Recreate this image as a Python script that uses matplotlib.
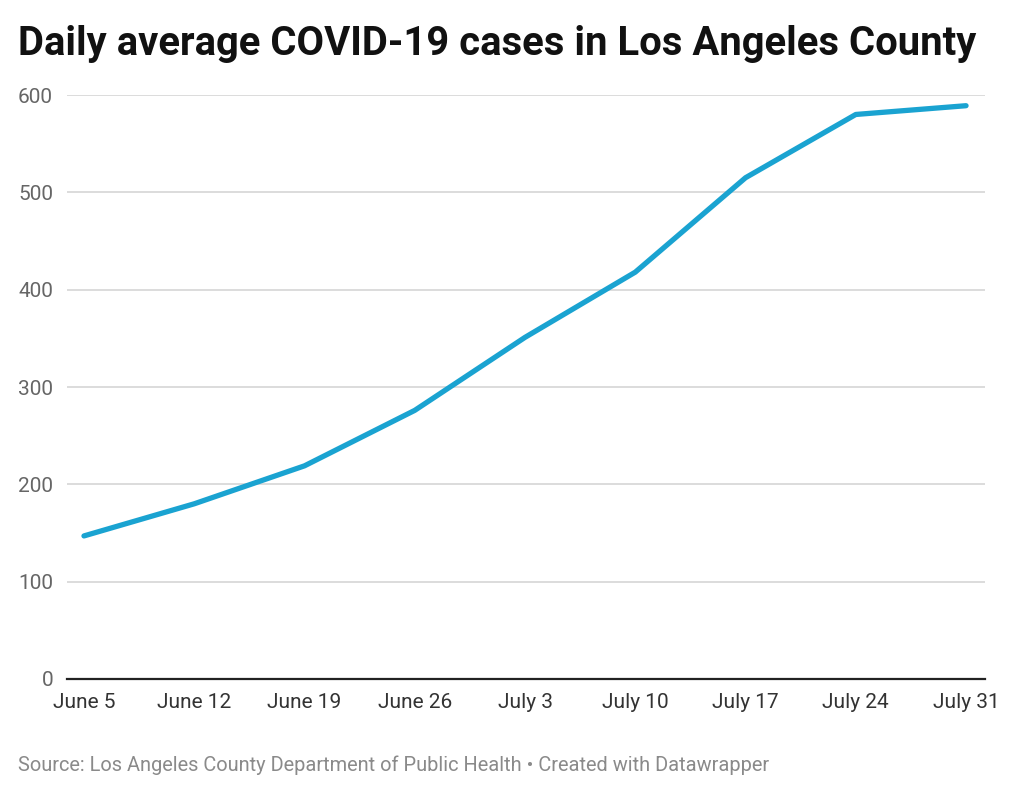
import matplotlib.pyplot as plt

plt.rcParams['font.family'] = ['Roboto', 'DejaVu Sans']

# data
dates = ["June 5", "June 12", "June 19", "June 26", "July 3",
         "July 10", "July 17", "July 24", "July 31"]
cases = [147, 180, 219, 276, 351, 418, 515, 580, 589]
yticks = [0, 100, 200, 300, 400, 500, 600]

fig = plt.figure(figsize=(10.24, 7.95), dpi=100)
ax = fig.add_axes([67/1024, 1 - 679/795, 918/1024, 584/795])

x = list(range(len(dates)))
ax.plot(x, cases, color="#1aa3d1", linewidth=3.8, solid_capstyle="round",
        solid_joinstyle="round", clip_on=False, zorder=3)

ax.set_xlim(-0.154, len(dates) - 1 + 0.172)
ax.set_ylim(0, 600)
ax.set_yticks(yticks)
ax.set_xticks(x)
ax.set_xticklabels(dates)

# gridlines and baseline
ax.grid(axis="y", color="#d9d9d9", linewidth=1.3)
ax.set_axisbelow(True)
for s in ["top", "right", "left"]:
    ax.spines[s].set_visible(False)
ax.spines["bottom"].set_color("#222222")
ax.spines["bottom"].set_linewidth(1.6)
ax.spines["bottom"].set_zorder(4)

ax.tick_params(axis="y", length=0, pad=10, labelsize=15, labelcolor="#666666")
ax.tick_params(axis="x", length=0, pad=10, labelsize=15, labelcolor="#333333")

fig.text(18/1024, 1 - 44/795, "Daily average COVID-19 cases in Los Angeles County",
         fontsize=28.8, fontweight="bold", color="#111111", va="center", ha="left")
fig.text(18/1024, 1 - 765/795,
         "Source: Los Angeles County Department of Public Health \u2022 Created with Datawrapper",
         fontsize=14.4, color="#8a8a8a", va="center", ha="left")

fig.savefig("out.png", dpi=100)
